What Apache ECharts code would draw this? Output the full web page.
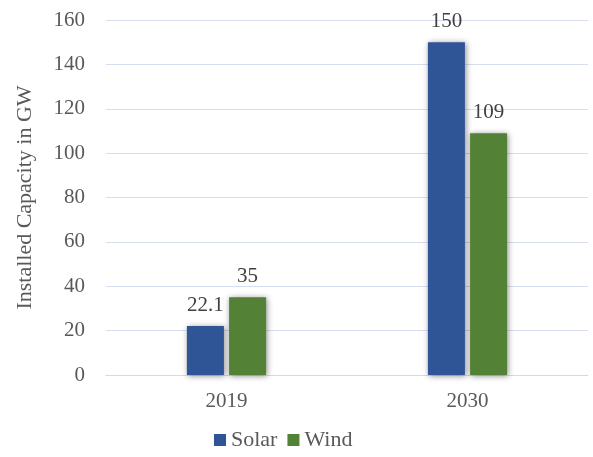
<!DOCTYPE html>
<html><head><meta charset="utf-8">
<script src="https://cdn.jsdelivr.net/npm/echarts@6/dist/echarts.min.js"></script>
<style>html,body{margin:0;padding:0;background:#fff}#c{width:593px;height:457px}</style>
</head><body><div id="c"></div>
<script>
const categories = ['2019', '2030'];
const solar = [22.1, 150];
const wind = [35, 109];
const yTicks = {min: 0, max: 160, interval: 20};
const seriesNames = ['Solar', 'Wind'];

const font = '"Liberation Serif","Times New Roman",serif';
const txt = '#595959';
const chart = echarts.init(document.getElementById('c'));
const shadow = {shadowBlur: 6, shadowColor: 'rgba(0,0,0,0.45)', shadowOffsetX: 1, shadowOffsetY: 1};
chart.setOption({
  animation: false,
  textStyle: {fontFamily: font},
  grid: {left: 106, right: 5, top: 20, bottom: 82},
  legend: {
    bottom: 1, left: 209, itemWidth: 12, itemHeight: 12, itemGap: 10,
    icon: 'rect',
    textStyle: {fontFamily: font, fontSize: 22, color: txt},
    data: seriesNames
  },
  xAxis: {
    type: 'category', data: categories,
    axisLine: {lineStyle: {color: '#D9D9D9', width: 1}},
    axisTick: {show: false},
    axisLabel: {fontFamily: font, fontSize: 21, color: txt, margin: 16}
  },
  yAxis: {
    type: 'value', min: yTicks.min, max: yTicks.max, interval: yTicks.interval,
    name: 'Installed Capacity in GW', nameLocation: 'middle', nameGap: 70,
    nameTextStyle: {fontFamily: font, fontSize: 22, color: txt},
    axisLine: {show: false}, axisTick: {show: false},
    axisLabel: {fontFamily: font, fontSize: 21, color: txt, margin: 21},
    splitLine: {lineStyle: {color: '#D6DEF0', width: 1}}
  },
  series: [
    {name: seriesNames[0], type: 'bar', data: solar, barWidth: 37, barGap: '14%',
     itemStyle: Object.assign({color: '#2F5597'}, shadow),
     label: {show: true, position: 'top', distance: 10, fontFamily: font, fontSize: 21, color: '#404040'}},
    {name: seriesNames[1], type: 'bar', data: wind, barWidth: 37,
     itemStyle: Object.assign({color: '#538135'}, shadow),
     label: {show: true, position: 'top', distance: 10, fontFamily: font, fontSize: 21, color: '#404040'}}
  ]
});
</script></body></html>
